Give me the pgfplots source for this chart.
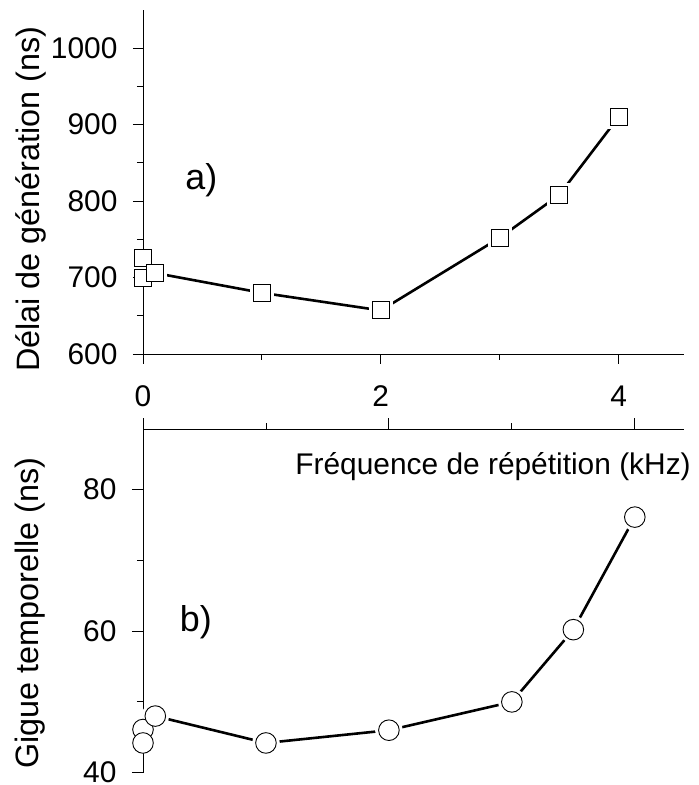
\documentclass[border=0pt]{standalone}
\usepackage{fontspec}
\setmainfont{Liberation Sans}
\usepackage{pgfplots}
\pgfplotsset{compat=1.18}

\pgfplotsset{
  panel/.style={
    scale only axis,
    width=541bp,
    clip=false,
    axis x line*=bottom,
    axis y line*=left,
    axis line style={-, line width=0.9bp, black},
    tick style={line width=0.9bp, black},
    tick align=outside,
    major tick length=10bp,
    minor tick length=6bp,
    tick label style={font=\fontsize{30}{36}\selectfont},
    label style={font=\fontsize{32.5}{38}\selectfont},
    yticklabel shift=12bp,
    xticklabel shift=18bp,
    xtick={0,2,4}, minor xtick={1,3},
  },
  halo/.style={only marks, mark options={draw=white, fill=white, line width=7bp}},
  pts/.style={only marks, mark options={draw=black, fill=white, line width=0.9bp}},
}

\pgfplotstableread{
x y
0.1 706
1 680
2 657
3 752
3.5 808
4 910
}\delai

\pgfplotstableread{
x y
0.1 48.0
1 44.2
2 46.0
3 50.0
3.5 60.2
4 76.1
}\gigue

\begin{document}
\begin{tikzpicture}
\useasboundingbox (0,0) rectangle (699bp,785bp);

% a) delai de generation
\begin{axis}[panel,
  at={(143bp,431bp)}, anchor=south west,
  height=344bp,
  xmin=0, xmax=4.55, ymin=600, ymax=1050,
  ytick={600,700,800,900,1000}, minor ytick={650,750,850,950},
  yticklabels={600,700,800,900,1000},
  xticklabels={0,2,4},
  ylabel={Délai de génération (ns)},
  ylabel style={at={(axis description cs:-0.208,0.45)}, anchor=center},
]
\addplot[black, line width=2.6bp, no marks] table {\delai};
\addplot[halo, mark=square*, mark size=8.5bp] table {\delai};
\addplot[pts, mark=square*, mark size=8.5bp] coordinates {(0,700) (0,725)};
\addplot[pts, mark=square*, mark size=8.5bp] table {\delai};
\node[font=\fontsize{36}{40}\selectfont] at (axis cs:0.49,827) {a)};
\end{axis}

% b) gigue temporelle
\begin{axis}[panel,
  axis x line*=top,
  at={(143bp,12.3bp)}, anchor=south west,
  height=343.4bp,
  xmin=0, xmax=4.4, ymin=40, ymax=88.5,
  ytick={40,60,80}, minor ytick={50,70},
  yticklabels={40,60,80},
  xticklabels={,,},
  major tick length=11bp,
  ylabel={Gigue temporelle (ns)},
  ylabel style={at={(axis description cs:-0.208,0.465)}, anchor=center},
]
\addplot[black, line width=2.6bp, no marks] table {\gigue};
\addplot[halo, mark=*, mark size=10.3bp] table {\gigue};
\addplot[pts, mark=*, mark size=10.3bp] coordinates {(0,46.1) (0,44.2)};
\addplot[pts, mark=*, mark size=10.3bp] table {\gigue};
\node[font=\fontsize{36}{40}\selectfont] at (axis cs:0.43,61.2) {b)};
\node[font=\fontsize{30}{36}\selectfont, anchor=base] at (axis cs:2.847,82.08) {Fréquence de répétition (kHz)};
\end{axis}
\end{tikzpicture}
\end{document}
